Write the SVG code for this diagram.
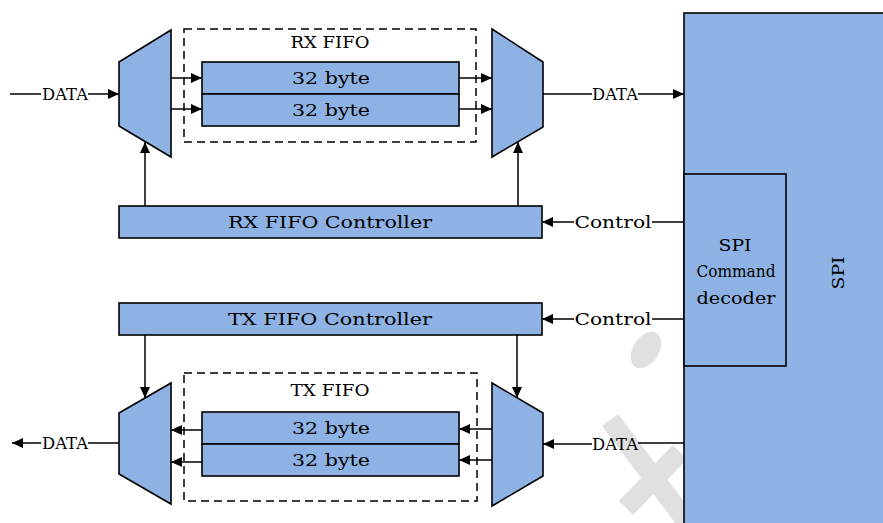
<svg xmlns="http://www.w3.org/2000/svg" width="883" height="523" viewBox="0 0 883 523">
<defs>
<marker id="ah" markerUnits="userSpaceOnUse" markerWidth="12" markerHeight="10" refX="11" refY="5" orient="auto">
<path d="M0,0 L11,5 L0,10 Z" fill="#000"/>
</marker>
<style>
.blk{fill:#8db2e3;stroke:#000;stroke-width:1.6}
.dash{fill:none;stroke:#000;stroke-width:1.5;stroke-dasharray:8,5}
.ln{fill:none;stroke:#000;stroke-width:1.5}
.arr{fill:none;stroke:#000;stroke-width:1.5;marker-end:url(#ah)}
.t{font-family:"DejaVu Serif","Liberation Serif",serif;font-size:17.5px;fill:#000;text-anchor:middle}
.wm{fill:none;stroke:#e0e0e0;stroke-width:20}
</style>
</defs>
<rect width="883" height="523" fill="#fff"/>
<g id="watermark">
<ellipse cx="646" cy="350" rx="20" ry="13" transform="rotate(-58 646 350)" fill="#e0e0e0"/>
<line class="wm" x1="610" y1="420" x2="690" y2="526"/>
<line class="wm" x1="680" y1="452" x2="626" y2="508"/>
</g>
<g id="spi">
<rect class="blk" x="684" y="13" width="210" height="520"/>
<text class="t" transform="translate(838 273) rotate(-90)" dominant-baseline="central" textLength="33" lengthAdjust="spacingAndGlyphs">SPI</text>
</g>
<g id="spi-cmd-decoder">
<rect class="blk" x="684" y="174" width="102" height="192"/>
<text class="t" x="735" y="251" textLength="33" lengthAdjust="spacingAndGlyphs">SPI</text>
<text class="t" x="736" y="277" textLength="79" lengthAdjust="spacingAndGlyphs">Command</text>
<text class="t" x="736" y="304" textLength="79" lengthAdjust="spacingAndGlyphs">decoder</text>
</g>
<g id="rx-fifo">
<rect class="dash" x="184" y="29" width="292" height="113"/>
<text class="t" x="330" y="48" textLength="79" lengthAdjust="spacingAndGlyphs">RX FIFO</text>
<rect class="blk" x="202" y="62" width="257" height="32"/>
<text class="t" x="331" y="84" textLength="78" lengthAdjust="spacingAndGlyphs">32 byte</text>
<rect class="blk" x="202" y="94" width="257" height="32"/>
<text class="t" x="331" y="116" textLength="78" lengthAdjust="spacingAndGlyphs">32 byte</text>
</g>
<g id="rx-demux">
<polygon class="blk" points="119,62 171,30 171,157 119,126"/>
</g>
<g id="rx-mux">
<polygon class="blk" points="492,29 543,62 543,127 492,157"/>
</g>
<g id="rx-controller">
<rect class="blk" x="119" y="206" width="423" height="32"/>
<text class="t" x="330" y="228" textLength="204" lengthAdjust="spacingAndGlyphs">RX FIFO Controller</text>
</g>
<g id="tx-controller">
<rect class="blk" x="119" y="303" width="423" height="32"/>
<text class="t" x="330" y="325" textLength="204" lengthAdjust="spacingAndGlyphs">TX FIFO Controller</text>
</g>
<g id="tx-fifo">
<rect class="dash" x="184" y="373" width="293" height="128"/>
<text class="t" x="330" y="396" textLength="79" lengthAdjust="spacingAndGlyphs">TX FIFO</text>
<rect class="blk" x="202" y="412" width="257" height="32"/>
<text class="t" x="331" y="434" textLength="78" lengthAdjust="spacingAndGlyphs">32 byte</text>
<rect class="blk" x="202" y="444" width="257" height="32"/>
<text class="t" x="331" y="466" textLength="78" lengthAdjust="spacingAndGlyphs">32 byte</text>
</g>
<g id="tx-mux">
<polygon class="blk" points="119,413 171,383 171,504 119,474"/>
</g>
<g id="tx-demux">
<polygon class="blk" points="492,383 543,413 543,476 492,506"/>
</g>
<g id="connectors">
<line class="ln" x1="10" y1="94" x2="41" y2="94"/>
<text class="t" x="65" y="100" textLength="46" lengthAdjust="spacingAndGlyphs">DATA</text>
<line class="arr" x1="88" y1="94" x2="119" y2="94"/>
<line class="arr" x1="171" y1="78" x2="202" y2="78"/>
<line class="arr" x1="171" y1="109" x2="202" y2="109"/>
<line class="arr" x1="459" y1="78" x2="492" y2="78"/>
<line class="arr" x1="459" y1="109" x2="492" y2="109"/>
<line class="ln" x1="543" y1="94" x2="592" y2="94"/>
<text class="t" x="615" y="100" textLength="46" lengthAdjust="spacingAndGlyphs">DATA</text>
<line class="arr" x1="638" y1="94" x2="684" y2="94"/>
<line class="arr" x1="145" y1="206" x2="145" y2="142"/>
<line class="arr" x1="518" y1="206" x2="518" y2="142"/>
<line class="ln" x1="684" y1="222" x2="652" y2="222"/>
<text class="t" x="613" y="228" textLength="77" lengthAdjust="spacingAndGlyphs">Control</text>
<line class="arr" x1="574" y1="222" x2="542" y2="222"/>
<line class="ln" x1="684" y1="319" x2="652" y2="319"/>
<text class="t" x="613" y="325" textLength="77" lengthAdjust="spacingAndGlyphs">Control</text>
<line class="arr" x1="574" y1="319" x2="542" y2="319"/>
<line class="arr" x1="145" y1="335" x2="145" y2="398"/>
<line class="arr" x1="517" y1="335" x2="517" y2="398"/>
<line class="arr" x1="202" y1="430" x2="171" y2="430"/>
<line class="arr" x1="202" y1="462" x2="171" y2="462"/>
<line class="arr" x1="492" y1="429" x2="459" y2="429"/>
<line class="arr" x1="492" y1="460" x2="459" y2="460"/>
<line class="ln" x1="684" y1="443" x2="638" y2="443"/>
<text class="t" x="615" y="450" textLength="46" lengthAdjust="spacingAndGlyphs">DATA</text>
<line class="arr" x1="592" y1="444" x2="543" y2="444"/>
<line class="ln" x1="119" y1="443" x2="88" y2="443"/>
<text class="t" x="65" y="449" textLength="46" lengthAdjust="spacingAndGlyphs">DATA</text>
<line class="arr" x1="41" y1="443" x2="12" y2="443"/>
</g>
</svg>
